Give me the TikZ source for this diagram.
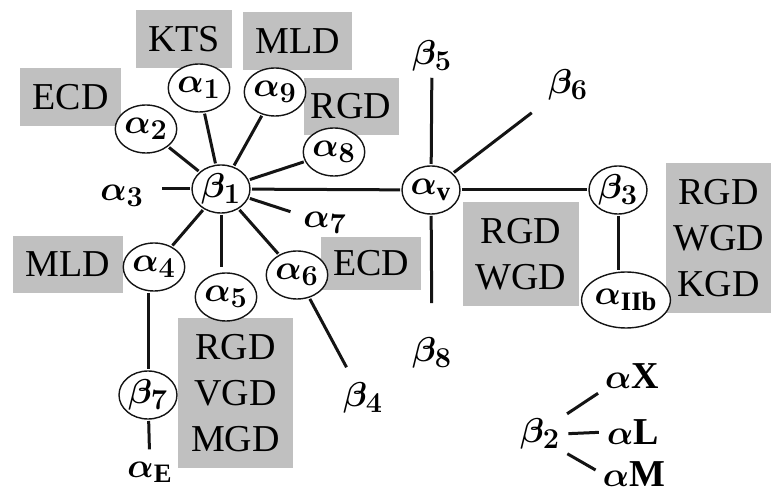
\documentclass[tikz,border=0pt]{standalone}
\usepackage{fontspec}
\setmainfont{Liberation Serif}
\usepackage{amsmath}
\usetikzlibrary{shapes.geometric}
\definecolor{colBox}{RGB}{192,192,192}
\definecolor{colLine}{RGB}{20,20,20}
\tikzset{
    subunit/.style={ellipse, draw=colLine, fill=white, line width=0.7pt,
        minimum width=29pt, minimum height=24pt, inner sep=0pt, outer sep=1pt},
    tag/.style={inner sep=0pt},
    motif/.style={rectangle, fill=colBox, inner sep=0pt, align=center},
    link/.style={line width=1.5pt, draw=colLine}
}

\begin{document}
\begin{tikzpicture}[x=0.5pt, y=-0.5pt, font=\fontsize{19}{23}\selectfont\boldmath]

    \useasboundingbox (0,0) rectangle (771,491);

    \node[motif, minimum width=48pt, minimum height=29pt] (kts) at (184,39) {KTS};
    \node[motif, minimum width=54.5pt, minimum height=29pt] (mldtop) at (297.5,41) {MLD};
    \node[motif, minimum width=50.5pt, minimum height=29pt] (ecdtop) at (70.5,97) {ECD};
    \node[motif, minimum width=47.5pt, minimum height=28.5pt] (rgdtop) at (351,106.5) {RGD};
    \node[motif, minimum width=55pt, minimum height=28.5pt] (mldleft) at (68,264.5) {MLD};
    \node[motif, minimum width=50pt, minimum height=26.5pt] (ecdmid) at (371,263.5) {ECD};
    \node[motif, minimum width=57.5pt, minimum height=75pt] (rvm) at (235.5,393) {RGD\\VGD\\MGD};
    \node[motif, minimum width=58pt, minimum height=52pt] (rw) at (521,254) {RGD\\WGD};
    \node[motif, minimum width=52.5pt, minimum height=75pt] (rwk) at (718.5,238) {RGD\\WGD\\KGD};

    \node[subunit] (b1) at (221,189) {$\beta_1$};
    \node[subunit] (a1) at (199,88) {$\alpha_1$};
    \node[subunit] (a9) at (275,92) {$\alpha_9$};
    \node[subunit] (a2) at (146,129) {$\alpha_2$};
    \node[subunit] (a8) at (334,152) {$\alpha_8$};
    \node[subunit] (a4) at (154,267) {$\alpha_4$};
    \node[subunit] (a5) at (226,297) {$\alpha_5$};
    \node[subunit] (a6) at (297,275) {$\alpha_6$};
    \node[subunit] (b7) at (148,395) {$\beta_7$};
    \node[subunit] (av) at (431,190) {$\alpha_{\mathrm{v}}$};
    \node[subunit] (b3) at (618,190) {$\beta_3$};
    \node[subunit, minimum width=36pt, minimum height=28pt] (a2b) at (626,300) {$\alpha_{\mathrm{IIb}}$};

    \node[tag] (a3) at (122,196) {$\alpha_3$};
    \node[tag] (a7) at (325,223) {$\alpha_7$};
    \node[tag] (b5) at (432,56) {$\beta_5$};
    \node[tag] (b6) at (568,85) {$\beta_6$};
    \node[tag] (b4) at (363,398) {$\beta_4$};
    \node[tag] (b8) at (432,353) {$\beta_8$};
    \node[tag] (aE) at (150,472) {$\alpha_{\mathrm{E}}$};
    \node[tag] (b2) at (540,434) {$\beta_2$};
    \node[tag] (ax) at (632,376) {$\alpha\mathrm{X}$};
    \node[tag] (al) at (633,432) {$\alpha\mathrm{L}$};
    \node[tag] (am) at (634,474) {$\alpha\mathrm{M}$};

    \draw[link] (b1) -- (a1);
    \draw[link] (b1) -- (a9);
    \draw[link] (b1) -- (a2);
    \draw[link] (b1) -- (a8);
    \draw[link, shorten >=9pt] (b1) -- (b1.west -| a3.east);
    \draw[link, shorten >=6.5pt] (b1) -- (a7);
    \draw[link] (b1) -- (av);
    \draw[link] (b1) -- (a4);
    \draw[link, shorten >=2pt] (b1) -- (b1 |- a5.north);
    \draw[link] (b1) -- (a6);
    \draw[link, shorten >=8.5pt] (a6) -- (b4);
    \draw[link] (b7) -- (b7 |- a4.south);
    \draw[link, shorten >=6pt] (b7) -- (aE);
    \draw[link, shorten >=3pt] (av) -- (b5);
    \draw[link, shorten >=10pt] (av) -- (b6);
    \draw[link] (av) -- (b3);
    \draw[link, shorten >=17pt] (av) -- (b8);
    \draw[link] (b3) -- (b3 |- a2b.north);
    \draw[link, shorten <=4pt, shorten >=4pt] (b2.north east) -- (ax.south west);
    \draw[link, shorten <=4pt, shorten >=4pt] (b2.east) -- (al.west);
    \draw[link, shorten <=4pt, shorten >=4pt] (b2.south east) -- (am.west);

\end{tikzpicture}
\end{document}
